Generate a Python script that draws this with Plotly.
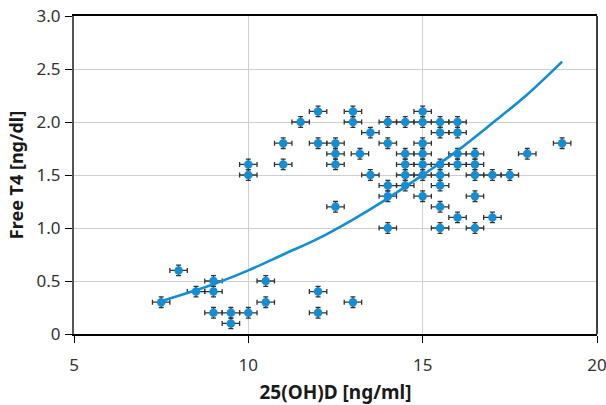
import plotly.graph_objects as go

# Scatter data: 25(OH)D [ng/ml] vs Free T4 [ng/dl]
vit_d = [7.5, 8, 8.5, 9, 9, 9, 9.5, 9.5, 10, 10.5, 10.5, 12, 12, 13,
         10, 10, 11, 11, 11.5, 12, 12, 12.5, 12.5, 12.5, 12.5, 13, 13, 13.2, 13.5, 13.5,
         14, 14, 14, 14, 14,
         14.5, 14.5, 14.5, 14.5, 14.5,
         15, 15, 15, 15, 15, 15, 15,
         15.5, 15.5, 15.5, 15.5, 15.5, 15.5, 15.5,
         16, 16, 16, 16, 16,
         16.5, 16.5, 16.5, 16.5, 16.5,
         17, 17, 17.5, 18, 19]
free_t4 = [0.3, 0.6, 0.4, 0.5, 0.4, 0.2, 0.2, 0.1, 0.2, 0.5, 0.3, 0.4, 0.2, 0.3,
           1.6, 1.5, 1.8, 1.6, 2.0, 2.1, 1.8, 1.8, 1.7, 1.6, 1.2, 2.1, 2.0, 1.7, 1.9, 1.5,
           2.0, 1.8, 1.4, 1.3, 1.0,
           2.0, 1.7, 1.6, 1.5, 1.4,
           2.1, 2.0, 1.8, 1.7, 1.6, 1.5, 1.3,
           2.0, 1.9, 1.6, 1.5, 1.4, 1.2, 1.0,
           2.0, 1.9, 1.7, 1.6, 1.1,
           1.7, 1.6, 1.5, 1.3, 1.0,
           1.5, 1.1, 1.5, 1.7, 1.8]
err_x = 0.25
err_y = 0.05

# Trend curve
trend_x = [7.5, 9, 10, 11, 12, 13, 14, 15, 16, 17, 18, 19]
trend_y = [0.31, 0.47, 0.60, 0.75, 0.90, 1.08, 1.28, 1.50, 1.73, 1.99, 2.26, 2.57]

y_ticks = [0, 0.5, 1.0, 1.5, 2.0, 2.5, 3.0]
y_tick_labels = ["0", "0.5", "1.0", "1.5", "2.0", "2.5", "3.0"]
x_ticks = [5, 10, 15, 20]

blue = "#138dd6"
font_family = "Noto Sans"

fig = go.Figure()
fig.add_trace(go.Scatter(
    x=vit_d, y=free_t4, mode="markers",
    marker=dict(color=blue, size=8.5),
    error_x=dict(type="constant", value=err_x, color="#333333", thickness=1.3, width=2.5),
    error_y=dict(type="constant", value=err_y, color="#333333", thickness=1.3, width=2.5),
    showlegend=False, hoverinfo="x+y",
))
fig.add_trace(go.Scatter(
    x=trend_x, y=trend_y, mode="lines", line=dict(color=blue, width=2.6, shape="spline"),
    showlegend=False,
))

fig.update_layout(
    width=606, height=405,
    margin=dict(l=74, r=9, t=16, b=71),
    paper_bgcolor="white", plot_bgcolor="white",
    font=dict(family=font_family, size=17, color="#333333"),
    xaxis=dict(
        range=[5, 20], tickvals=x_ticks, showgrid=True, gridcolor="#cfcfcf", gridwidth=1,
        showline=True, linecolor="black", linewidth=1.5, mirror=True,
        ticks="outside", ticklen=7, tickcolor="black", zeroline=False,
        ticklabelstandoff=8, ticklabeloverflow="allow", automargin=False,
        title=dict(text="<b>25(OH)D [ng/ml]</b>", font=dict(size=19, color="#1a1a1a"), standoff=15),
    ),
    yaxis=dict(
        range=[0, 3], tickvals=y_ticks, ticktext=y_tick_labels, showgrid=True,
        gridcolor="#cfcfcf", gridwidth=1,
        showline=True, linecolor="#555555", linewidth=2,
        ticks="outside", ticklen=7, tickcolor="black", zeroline=False,
        ticklabelstandoff=1, automargin=False,
        title=dict(text="<b>Free T4 [ng/dl]</b>", font=dict(size=18, color="#1a1a1a"), standoff=8),
    ),
    shapes=[dict(type="line", xref="paper", yref="paper", x0=1, x1=1, y0=0, y1=1,
                 line=dict(color="black", width=1.5))],
)

fig.write_html("out.html", config={"displayModeBar": False},
               post_script="document.body.style.margin='0';")
